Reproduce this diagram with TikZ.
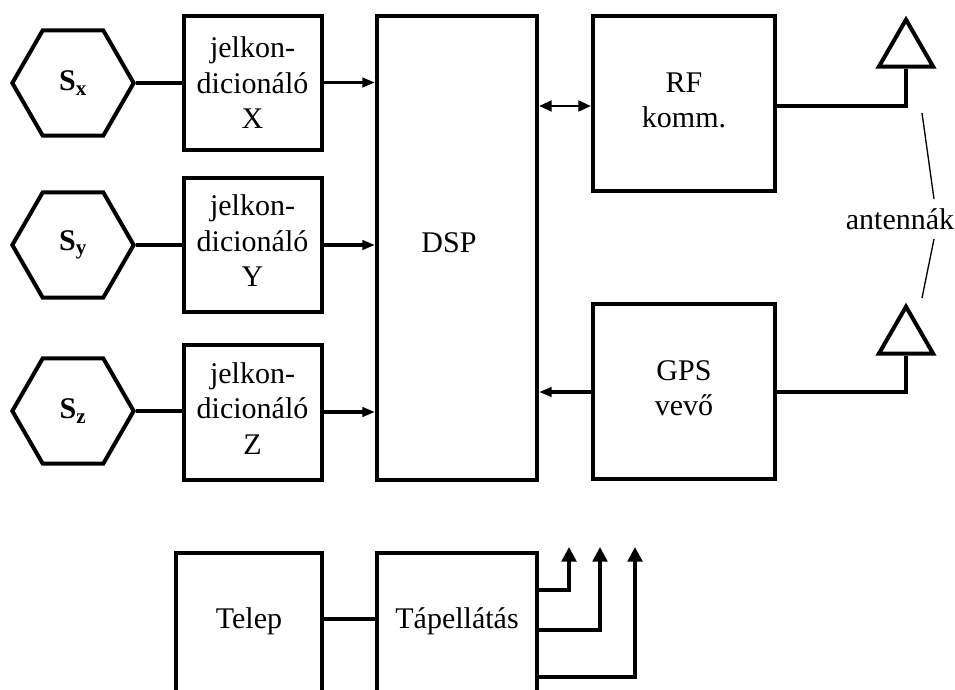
\documentclass[tikz,border=0pt]{standalone}
\usepackage{fontspec}
\setmainfont{Liberation Serif}
\usepackage{tikz}
\usetikzlibrary{calc,arrows.meta,positioning,shapes.geometric}
\newcommand{\lift}[1]{\rule[-#1]{0pt}{#1}}
\tikzset{
  ar/.style={-{Stealth[length=9.5pt,width=7pt,inset=0pt]},line width=2.5pt},
  arb/.style={-{Stealth[length=11pt,width=11pt,inset=0pt]},line width=2.5pt},
  wire/.style={line width=2.5pt},
  box/.style={draw,line width=3pt,align=center,inner sep=0pt,font=\fontsize{22.5}{26.6}\selectfont},
  hexa/.style={regular polygon,regular polygon sides=6,draw,line width=3pt,minimum size=91pt,inner sep=0pt,font=\fontsize{22.5}{26}\selectfont\bfseries},
  ant/.style={regular polygon,regular polygon sides=3,draw,line width=3pt,minimum size=47pt,inner sep=0pt},
  lbl/.style={inner sep=0pt,font=\fontsize{22.5}{26.6}\selectfont}
}
\begin{document}
\begin{tikzpicture}[x=0.75pt,y=-0.75pt]
\path[use as bounding box,clip] (0,0) rectangle (955,689);
\foreach \n/\L/\yc/\yb/\yh/\d in {x/X/83/83/134/0pt,y/Y/245/245/134/6pt,z/Z/412.5/411/135/6.5pt}{
 \node[hexa] (s\n) at (73,\yb) {S\textsubscript{\n}};
 \node[box,minimum width=103.5pt,minimum height=\yh*0.75pt] (j\n) at (252.5,\yc) {jelkon-\\dicionáló\\\L\lift{\d}};
 \draw[wire] (s\n.east) -- (s\n.east-|j\n.west);
}
\node[box,minimum width=120pt,minimum height=348pt] (dsp) at (457,248) {DSP\lift{7.5pt}\hspace*{12pt}};
\node[box,minimum width=136.5pt,minimum height=131.25pt] (rf) at (684,103.5) {RF\\komm.\lift{5.2pt}};
\node[box,minimum width=136.5pt,minimum height=131.25pt] (gps) at (684,391.5) {GPS\\vevő\lift{5.2pt}};
\node[box,minimum width=109.5pt,minimum height=105pt] (telep) at (249,623) {Telep\lift{7.8pt}};
\node[box,minimum width=120pt,minimum height=105pt] (tap) at (457,623) {Tápellátás\lift{7.8pt}};
\node[ant] (ant1) at (906,51) {};
\node[ant] (ant2) at (906,338) {};
\node[lbl] (antl) at (900,219) {antennák};
% bemenetek
\foreach \n/\yb in {x/82.5,y/245,z/412}{
 \coordinate (c\n) at (322,\yb);
 \draw[ar] (c\n) -- (c\n-|dsp.west);
}
\draw[{Stealth[length=9.5pt,width=8pt,inset=0pt]}-{Stealth[length=9.5pt,width=8pt,inset=0pt]},line width=2.1pt] (rf.west|-0,106) -- (dsp.east|-0,106);
\draw[ar] (gps.west|-0,392) -- (dsp.east|-0,392);
\draw[wire] (rf.east|-0,106) -| (ant1.side 2);
\draw[wire] (gps.east|-0,392) -| (ant2.side 2);
\draw[line width=1pt] (922,113) -- (934,199);
\draw[line width=1pt] (934,239) -- (922,298);
% tap
\draw[wire] (telep.east|-0,619) -- (tap.west|-0,619);
\coordinate (t1) at (569,547);
\coordinate (t2) at (600,547);
\coordinate (t3) at (635,547);
\draw[arb] (tap.east|-0,590) -| (t1);
\draw[arb] (tap.east|-0,630) -| (t2);
\draw[arb] (tap.east|-0,677) -| (t3);
\end{tikzpicture}
\end{document}
